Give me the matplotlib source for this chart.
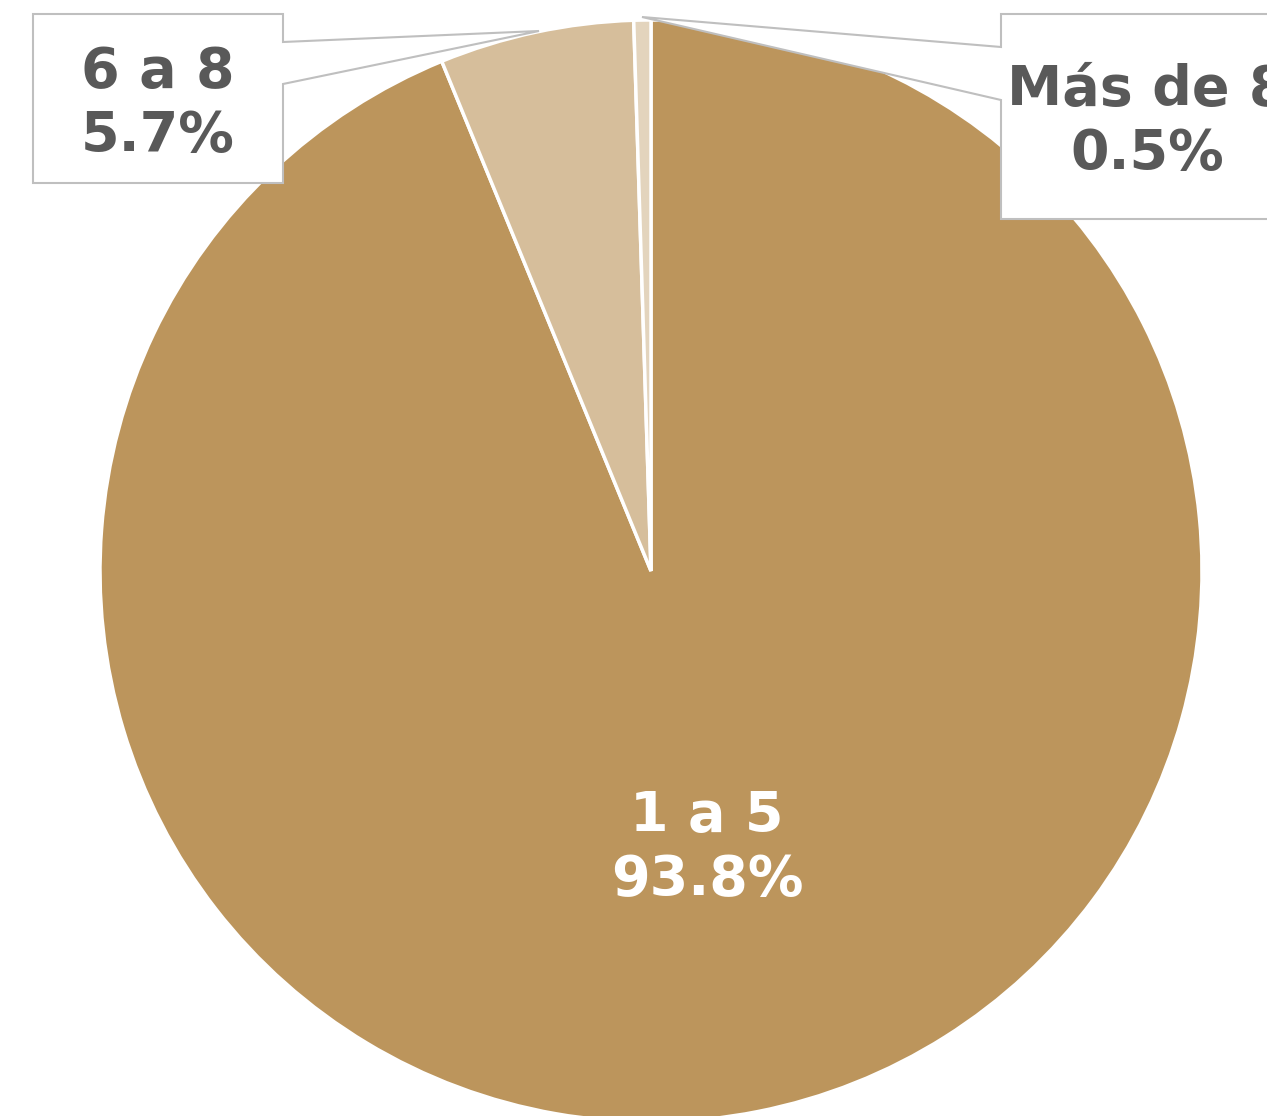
import matplotlib
matplotlib.use("Agg")
import matplotlib.pyplot as plt
from matplotlib.patches import Polygon

# data
categorias = ["1 a 5", "6 a 8", "Más de 8"]
porcentajes = [93.8, 5.7, 0.5]
colores = ["#BC955C", "#D6BE9B", "#E3D4BD"]

W, H = 1267, 1116
fig = plt.figure(figsize=(W / 100, H / 100), dpi=100)
ax = fig.add_axes([0, 0, 1, 1])


def py(y):
    # pixel row (from top) -> data y
    return H - y


cx, cy, r = 651, py(571), 551
ax.pie(porcentajes, colors=colores, startangle=90, counterclock=False,
       center=(cx, cy), radius=r, frame=True,
       wedgeprops=dict(edgecolor="white", linewidth=2.5))
ax.set_xlim(0, W)
ax.set_ylim(0, H)
ax.set_aspect("equal")
ax.axis("off")

gris = "#595959"
borde = "#BFBFBF"


def callout(x0, x1, y0, y1, ya, yb, tip):
    # box with a wedge on its side pointing to tip (all in pixel rows)
    if tip[0] > x1:
        pts = [(x0, y0), (x1, y0), (x1, ya), tip, (x1, yb), (x1, y1), (x0, y1)]
    else:
        pts = [(x0, y0), (x1, y0), (x1, y1), (x0, y1), (x0, yb), tip, (x0, ya)]
    pts = [(x, py(y)) for x, y in pts]
    ax.add_patch(Polygon(pts, closed=True, facecolor="white",
                         edgecolor=borde, linewidth=1.5, zorder=5))


callout(33, 283, 14, 183, 42, 84, (539, 31))
callout(1001, 1300, 14, 219, 47, 100, (642, 17))

ax.text(158, py(104), "%s\n%.1f%%" % (categorias[1], porcentajes[1]),
        ha="center", va="center", fontsize=40, fontweight="bold",
        color=gris, linespacing=1.25, zorder=6)
ax.text(1147, py(122), "%s\n%.1f%%" % (categorias[2], porcentajes[2]),
        ha="center", va="center", fontsize=40, fontweight="bold",
        color=gris, linespacing=1.25, zorder=6)
ax.text(707, py(848), "%s\n%.1f%%" % (categorias[0], porcentajes[0]),
        ha="center", va="center", fontsize=40, fontweight="bold",
        color="white", linespacing=1.25, zorder=6)

fig.savefig("out.png", dpi=100)
